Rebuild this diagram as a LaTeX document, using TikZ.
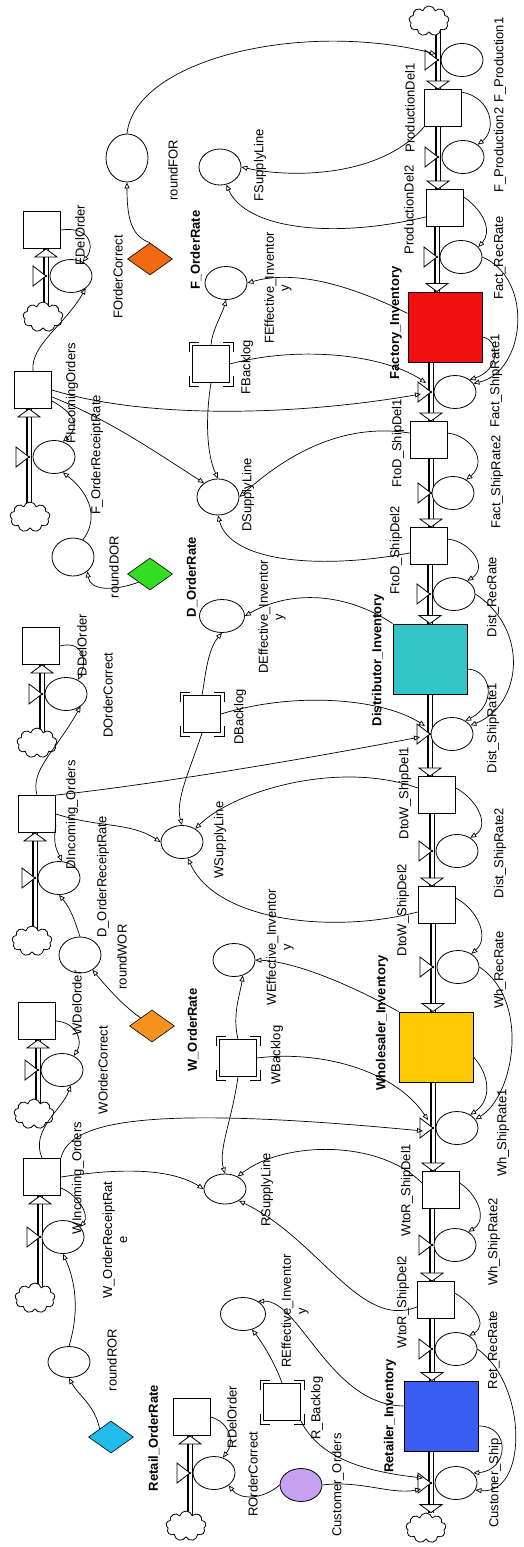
\documentclass[tikz,border=0pt]{standalone}
\usepackage{fontspec}
\setmainfont{Liberation Sans}
\usetikzlibrary{arrows.meta,shapes.geometric,shapes.symbols}
\pgfdeclarelayer{paper}
\pgfdeclarelayer{background}
\pgfsetlayers{paper,background,main}

\definecolor{factred}{HTML}{F01010}
\definecolor{distteal}{HTML}{33C6C6}
\definecolor{wholeyel}{HTML}{FFC800}
\definecolor{retblue}{HTML}{3A5CF0}
\definecolor{forange}{HTML}{F26A10}
\definecolor{dgreen}{HTML}{33DD22}
\definecolor{worange}{HTML}{F5921E}
\definecolor{rcyan}{HTML}{22BCEA}
\definecolor{custlilac}{HTML}{C8A0F2}

% valve: name, pipe x, y, x of its circle
\newcommand{\valve}[4]{%
  \draw[fill=white, line width=0.8pt] (#2-13,#3-10) -- (#2-13,#3+10) -- (#2,#3) -- cycle;
  \fill (#2,#3) circle (1.4);
  \node[aux] (#1) at (#4,#3) {};
  \coordinate (#1v) at (#2,#3);
}
% pipe going down through a valve, hollow head at the end
\newcommand{\flowdown}[3]{%
  \begin{pgfonlayer}{background}
    \draw[pipe] (#1.center -| #2v) -- (#3.north -| #2v);
  \end{pgfonlayer}
  \draw[flowtip] (#3.north -| #2v) -- ++(-11,-8) -- ++(22,0) -- cycle;
}
% pipe going up from a cloud through a valve
\newcommand{\flowup}[3]{%
  \begin{pgfonlayer}{background}
    \draw[pipe] (#1.center -| #2v) -- (#3.south -| #2v);
  \end{pgfonlayer}
  \draw[flowtip] (#3.south -| #2v) -- ++(-11,8) -- ++(22,0) -- cycle;
}
% corner marks of the backlog boxes
\newcommand{\backlogmarks}[1]{%
  \draw[line width=0.8pt] ([shift={(-3,7)}]#1.north west) -- ++(0,-10) -- ++(10,0);
  \draw[line width=0.8pt] ([shift={(3,7)}]#1.north east) -- ++(0,-10) -- ++(-10,0);
  \draw[line width=0.8pt] ([shift={(-3,-7)}]#1.south west) -- ++(0,10) -- ++(10,0);
  \draw[line width=0.8pt] ([shift={(3,-7)}]#1.south east) -- ++(0,10) -- ++(-10,0);
}

\begin{document}
\begin{tikzpicture}[x=1pt, y=-1pt,
    font=\fontsize{13}{15}\selectfont,
    aux/.style={ellipse, draw, fill=white, line width=0.8pt, minimum width=42pt, minimum height=33pt, inner sep=0pt},
    box/.style={rectangle, draw, fill=white, line width=0.9pt, minimum size=37pt, inner sep=0pt},
    stock/.style={rectangle, draw, line width=1pt, minimum width=74pt, minimum height=70pt, inner sep=0pt},
    cloudy/.style={cloud, cloud puffs=9, aspect=1.4, draw, fill=white, line width=0.8pt, minimum width=40pt, minimum height=30pt, inner sep=0pt},
    dia/.style={diamond, draw, line width=0.6pt, minimum width=45pt, minimum height=32pt, inner sep=0pt},
    link/.style={line width=0.7pt, -{Triangle[open, length=6pt, width=5pt]}},
    pipe/.style={line width=5.4pt, postaction={draw=white, line width=3pt}},
    flowtip/.style={draw, fill=white, line width=0.8pt},
    lab/.style={rotate=90, inner sep=0pt},
    blab/.style={lab, font=\fontsize{13}{15}\selectfont\bfseries}]
  \useasboundingbox (0,0) rectangle (524,1547);
  \begin{pgfonlayer}{paper}
    \fill[white] (0,0) rectangle (524,1547);
  \end{pgfonlayer}

  % material chain, factory down to the customer
  \node[cloudy] (cloudT) at (429,21) {};
  \node[box] (pd1) at (443,108) {};
  \node[box] (pd2) at (445,208) {};
  \node[stock, fill=factred] (fi) at (445,327) {};
  \node[box] (fd1) at (429,440) {};
  \node[box] (fd2) at (429,546) {};
  \node[stock, fill=distteal] (di) at (430,659) {};
  \node[box] (dw1) at (437,795) {};
  \node[box] (dw2) at (437,905) {};
  \node[stock, fill=wholeyel] (wi) at (436,1047) {};
  \node[box] (wr1) at (441,1190) {};
  \node[box] (wr2) at (436,1300) {};
  \node[stock, fill=retblue] (ri) at (441,1416) {};
  \node[cloudy] (cloudB) at (426,1528) {};

  \valve{fp1}{438}{60}{462}
  \valve{fp2}{438}{157}{463}
  \valve{frec}{437}{257}{461}
  \valve{fs1}{431}{392}{455}
  \valve{fs2}{431}{493}{453}
  \valve{drec}{430}{594}{454}
  \valve{ds1}{430}{734}{452}
  \valve{ds2}{432}{851}{457}
  \valve{wrec}{433}{967}{458}
  \valve{ws1}{433}{1128}{457}
  \valve{ws2}{432}{1245}{455}
  \valve{rrec}{432}{1349}{456}
  \valve{cs}{431}{1483}{456}

  \flowdown{cloudT}{fp1}{pd1}
  \flowdown{pd1}{fp2}{pd2}
  \flowdown{pd2}{frec}{fi}
  \flowdown{fi}{fs1}{fd1}
  \flowdown{fd1}{fs2}{fd2}
  \flowdown{fd2}{drec}{di}
  \flowdown{di}{ds1}{dw1}
  \flowdown{dw1}{ds2}{dw2}
  \flowdown{dw2}{wrec}{wi}
  \flowdown{wi}{ws1}{wr1}
  \flowdown{wr1}{ws2}{wr2}
  \flowdown{wr2}{rrec}{ri}
  \flowdown{ri}{cs}{cloudB}

  % order chains on the left
  \node[box] (fdel) at (42,230) {};
  \valve{fcor}{46}{276}{71}
  \node[cloudy] (fcl1) at (43,317) {};
  \flowup{fcl1}{fcor}{fdel}
  \node[box] (finc) at (33,390) {};
  \valve{forr}{29}{457}{54}
  \node[cloudy] (fcl2) at (30,517) {};
  \flowup{fcl2}{forr}{finc}

  \node[box] (ddel) at (41,646) {};
  \valve{dcor}{42}{694}{66}
  \node[cloudy] (dcl1) at (37,743) {};
  \flowup{dcl1}{dcor}{ddel}
  \node[box] (dinc) at (37,814) {};
  \valve{dorr}{35}{878}{59}
  \node[cloudy] (dcl2) at (32,941) {};
  \flowup{dcl2}{dorr}{dinc}

  \node[box] (wdel) at (37,1021) {};
  \valve{wcor}{38}{1070}{62}
  \node[cloudy] (wcl1) at (34,1114) {};
  \flowup{wcl1}{wcor}{wdel}
  \node[box] (winc) at (42,1177) {};
  \valve{worr}{40}{1237}{63}
  \node[cloudy] (wcl2) at (35,1298) {};
  \flowup{wcl2}{worr}{winc}

  \node[box] (rdel) at (192,1417) {};
  \valve{rcor}{190}{1473}{214}
  \node[cloudy] (rcl) at (186,1526) {};
  \flowup{rcl}{rcor}{rdel}

  % decision parts in the middle
  \node[aux, minimum height=48pt] (rfor) at (127,158) {};
  \node[dia, fill=forange] (fdia) at (150,259) {};
  \node[aux, minimum height=36pt] (fsl) at (220,167) {};
  \node[aux] (forate) at (226,283) {};
  \node[box] (fbl) at (211,364) {}; \backlogmarks{fbl}
  \node[aux, minimum height=36pt] (dsl) at (218,497) {};
  \node[aux, minimum height=38pt] (rdor) at (73,557) {};
  \node[dia, fill=dgreen] (ddia) at (150,574) {};
  \node[aux, minimum width=45pt] (dorate) at (222,616) {};
  \node[box] (dbl) at (202,714) {}; \backlogmarks{dbl}
  \node[aux] (wsl) at (182,842) {};
  \node[aux, minimum height=36pt] (rwor) at (80,955) {};
  \node[aux] (worate) at (234,960) {};
  \node[dia, fill=worange] (wdia) at (152,1026) {};
  \node[box] (wbl) at (238,1058) {}; \backlogmarks{wbl}
  \node[aux, minimum height=30pt] (rsl) at (225,1189) {};
  \node[aux, minimum height=31pt] (rror) at (69,1362) {};
  \node[aux, minimum width=45pt] (rorate) at (243,1314) {};
  \node[dia, fill=rcyan] (rdia) at (111,1437) {};
  \node[box] (rbl) at (282,1402) {}; \backlogmarks{rbl}
  \node[aux, fill=custlilac] (cord) at (301,1485) {};

  % factory links
  \draw[link] (rfor.north) .. controls (135,60) and (300,20) .. ([shift={(-2,-6)}]fp1v);
  \draw[link] (fdia.north) .. controls (130,236) and (127,215) .. (rfor.south);
  \draw[link] (pd1.south west) .. controls (380,178) and (290,178) .. (fsl.east);
  \draw[link] (pd2.205) .. controls (330,240) and (245,228) .. (fsl.290);
  \draw[link] (pd1.40) .. controls (492,98) and (497,130) .. (fp2.40);
  \draw[link] (pd2.30) .. controls (485,212) and (492,232) .. (frec.30);
  \draw[link] (fi.160) .. controls (360,290) and (300,268) .. (forate.east);
  \draw[link] (fbl.north) .. controls (212,330) and (222,315) .. (forate.south);
  \draw[link] (fbl.east) .. controls (300,345) and (385,355) .. ([shift={(-5,-9)}]fs1v);
  \draw[link] (fbl.south) .. controls (205,420) and (207,455) .. (dsl.north);
  \draw[link] (finc.east) .. controls (150,420) and (300,415) .. ([shift={(-10,2)}]fs1v);
  \draw[link] (finc.340) .. controls (110,420) and (160,455) .. (dsl.135);
  \draw[link] (finc.north) .. controls (30,345) and (65,325) .. (fcor.320);
  \draw[link] (fdel.east) .. controls (88,226) and (96,245) .. (fcor.50);
  \draw[link] (finc.330) .. controls (72,412) and (82,425) .. (forr.60);
  \draw[link] (rdor.60) .. controls (98,520) and (92,495) .. (forr.300);
  \draw[link] (fi.345) .. controls (500,340) and (500,370) .. (fs1.40);
  \draw[link] (frec.east) .. controls (535,280) and (525,372) .. (fs1.25);
  \draw[link] (fd1.160) .. controls (330,420) and (270,470) .. (dsl.east);
  \draw[link] (fd1.20) .. controls (472,436) and (488,462) .. (fs2.45);
  \draw[link] (fd2.20) .. controls (472,542) and (488,568) .. (drec.45);
  \draw[link] (fd2.200) .. controls (320,570) and (230,562) .. (dsl.south);

  % distributor links
  \draw[link] (ddia.south west) .. controls (112,592) and (90,590) .. (rdor.315);
  \draw[link] (di.north west) .. controls (345,592) and (290,590) .. (dorate.east);
  \draw[link] (dbl.north) .. controls (205,680) and (207,650) .. (dorate.south);
  \draw[link] (dbl.east) .. controls (300,690) and (385,700) .. ([shift={(-5,-8)}]ds1v);
  \draw[link] (drec.east) .. controls (530,630) and (522,705) .. (ds1.25);
  \draw[link] (di.345) .. controls (492,670) and (497,705) .. (ds1.45);
  \draw[link] (dinc.north east) .. controls (150,785) and (300,760) .. ([shift={(-10,3)}]ds1v);
  \draw[link] (dinc.north) .. controls (30,770) and (55,752) .. (dcor.320);
  \draw[link] (ddel.east) .. controls (82,640) and (88,660) .. (dcor.50);
  \draw[link] (dinc.330) .. controls (52,845) and (58,852) .. (dorr.80);
  \draw[link] (dinc.east) .. controls (100,828) and (130,822) .. (wsl.west);
  \draw[link] (dbl.south) .. controls (190,770) and (175,800) .. (wsl.north);
  \draw[link] (dw1.160) .. controls (340,760) and (235,790) .. (wsl.45);
  \draw[link] (dw2.200) .. controls (330,935) and (215,920) .. (wsl.290);
  \draw[link] (dw1.20) .. controls (478,800) and (490,826) .. (ds2.45);
  \draw[link] (dw2.20) .. controls (478,910) and (490,938) .. (wrec.45);

  % wholesaler links
  \draw[link] (rwor.north) .. controls (76,925) and (72,910) .. (dorr.south);
  \draw[link] (wdia.north west) .. controls (122,1005) and (105,985) .. (rwor.310);
  \draw[link] (wi.north west) .. controls (360,990) and (300,962) .. (worate.east);
  \draw[link] (wbl.north) .. controls (232,1015) and (240,995) .. (worate.300);
  \draw[link] (wbl.east) .. controls (320,1050) and (395,1070) .. ([shift={(-5,-8)}]ws1v);
  \draw[link] (wbl.south) .. controls (232,1120) and (218,1150) .. (rsl.north);
  \draw[link] (wi.345) .. controls (490,1075) and (492,1100) .. (ws1.45);
  \draw[link] (wrec.east) .. controls (530,1000) and (515,1095) .. (ws1.25);
  \draw[link] (winc.north east) .. controls (70,1120) and (150,1105) .. ([shift={(-10,3)}]ws1v);
  \draw[link] (winc.north) .. controls (30,1130) and (62,1110) .. (wcor.300);
  \draw[link] (wdel.east) .. controls (75,1022) and (84,1040) .. (wcor.50);
  \draw[link] (winc.330) .. controls (78,1195) and (90,1215) .. (worr.30);
  \draw[link] (winc.east) .. controls (120,1168) and (170,1168) .. (rsl.west);
  \draw[link] (wr1.160) .. controls (380,1140) and (285,1140) .. (rsl.45);
  \draw[link] (wr2.200) .. controls (360,1330) and (320,1240) .. (rsl.320);
  \draw[link] (wr1.20) .. controls (478,1195) and (488,1220) .. (ws2.45);
  \draw[link] (wr2.20) .. controls (475,1305) and (488,1325) .. (rrec.45);

  % retailer links
  \draw[link] (rror.north) .. controls (80,1310) and (75,1280) .. (worr.south);
  \draw[link] (rdia.north west) .. controls (95,1405) and (78,1395) .. (rror.south);
  \draw[link] (ri.165) .. controls (330,1405) and (300,1300) .. (rorate.40);
  \draw[link] (rbl.north) .. controls (276,1365) and (262,1342) .. (rorate.300);
  \draw[link] (rbl.south east) .. controls (320,1460) and (370,1472) .. ([shift={(-8,-5)}]csv);
  \draw[link] (cord.east) .. controls (360,1480) and (392,1495) .. ([shift={(-10,6)}]csv);
  \draw[link] (cord.west) .. controls (262,1500) and (240,1500) .. (rcor.320);
  \draw[link] (rdel.east) .. controls (228,1422) and (236,1440) .. (rcor.60);
  \draw[link] (ri.345) .. controls (510,1425) and (510,1470) .. (cs.30);
  \draw[link] (rrec.east) .. controls (528,1385) and (528,1495) .. (cs.340);

  % labels, right of the chain
  \node[lab] (l-fp1) at (500,60) {F\_Production1};
  \node[lab] (l-fp2) at (500,150) {F\_Production2};
  \node[lab] (l-frec) at (500,258) {Fact\_RecRate};
  \node[lab] (l-fs1) at (496,381) {Fact\_ShipRate1};
  \node[lab] (l-fs2) at (497,482) {Fact\_ShipRate2};
  \node[lab] (l-drec) at (493,597) {Dist\_RecRate};
  \node[lab] (l-ds1) at (493,728) {Dist\_ShipRate1};
  \node[lab] (l-ds2) at (500,853) {Dist\_ShipRate2};
  \node[lab] (l-wrec) at (500,970) {Wh\_RecRate};
  \node[lab] (l-ws1) at (503,1133) {Wh\_ShipRate1};
  \node[lab] (l-ws2) at (494,1242) {Wh\_ShipRate2};
  \node[lab] (l-rrec) at (494,1350) {Ret\_RecRate};
  \node[lab] (l-cs) at (495,1483) {Customer\_Ship};

  % labels, left of the chain
  \node[lab] (l-pd1) at (410,108) {ProductionDel1};
  \node[lab] (l-pd2) at (409,210) {ProductionDel2};
  \node[blab] (l-fi) at (396,323) {Factory\_Inventory};
  \node[lab] (l-fd1) at (398,443) {FtoD\_ShipDel1};
  \node[lab] (l-fd2) at (396,550) {FtoD\_ShipDel2};
  \node[blab] (l-di) at (378,660) {Distributor\_Inventory};
  \node[lab] (l-dw1) at (405,793) {DtoW\_ShipDel1};
  \node[lab] (l-dw2) at (403,910) {DtoW\_ShipDel2};
  \node[blab] (l-wi) at (382,1023) {Wholesaler\_Inventory};
  \node[lab] (l-wr1) at (407,1190) {WtoR\_ShipDel1};
  \node[lab] (l-wr2) at (403,1302) {WtoR\_ShipDel2};
  \node[blab] (l-ri) at (390,1416) {Retailer\_Inventory};

  % labels, orders and decisions
  \node[lab] (l-fdel) at (80,235) {FDelOrder};
  \node[lab] (l-fcor) at (118,277) {FOrderCorrect};
  \node[lab] (l-finc) at (72,393) {FIncomingOrders};
  \node[lab] (l-forr) at (97,455) {F\_OrderReceiptRate};
  \node[lab] (l-rfor) at (173,170) {roundFOR};
  \node[blab] (l-forate) at (196,250) {F\_OrderRate};
  \node[lab] (l-fsl) at (260,165) {FSupplyLine};
  \node[lab, align=center] (l-fei) at (278,288) {FEffective\_Inventor\\y};
  \node[lab] (l-fbl) at (247,367) {FBacklog};
  \node[lab] (l-dsl) at (248,495) {DSupplyLine};
  \node[lab] (l-rdor) at (114,567) {roundDOR};
  \node[blab] (l-dorate) at (192,577) {D\_OrderRate};
  \node[lab, align=center] (l-dei) at (272,617) {DEffective\_Inventor\\y};
  \node[lab] (l-ddel) at (82,645) {DDelOrder};
  \node[lab] (l-dcor) at (108,695) {DOrderCorrect};
  \node[lab] (l-dbl) at (240,717) {DBacklog};
  \node[lab] (l-dinc) at (72,815) {DIncoming\_Orders};
  \node[lab] (l-dorr) at (103,877) {D\_OrderReceiptRate};
  \node[lab] (l-wsl) at (220,840) {WSupplyLine};
  \node[lab] (l-rwor) at (122,957) {roundWOR};
  \node[lab, align=center] (l-wei) at (280,947) {WEffective\_Inventor\\y};
  \node[blab] (l-worate) at (193,1030) {W\_OrderRate};
  \node[lab] (l-wdel) at (77,1003) {WDelOrder};
  \node[lab] (l-wcor) at (103,1070) {WOrderCorrect};
  \node[lab] (l-wbl) at (277,1055) {WBacklog};
  \node[lab] (l-winc) at (78,1178) {WIncoming\_Orders};
  \node[lab, align=center] (l-worr) at (115,1240) {W\_OrderReceiptRat\\e};
  \node[lab] (l-rsl) at (267,1190) {RSupplyLine};
  \node[lab] (l-rror) at (112,1360) {roundROR};
  \node[lab, align=center] (l-rei) at (295,1311) {REffective\_Inventor\\y};
  \node[blab] (l-rorate) at (154,1438) {Retail\_OrderRate};
  \node[lab] (l-rdel) at (232,1417) {RDelOrder};
  \node[lab] (l-rcor) at (253,1474) {ROrderCorrect};
  \node[lab] (l-rbl) at (317,1408) {R\_Backlog};
  \node[lab] (l-cord) at (338,1485) {Customer\_Orders};
\end{tikzpicture}
\end{document}
